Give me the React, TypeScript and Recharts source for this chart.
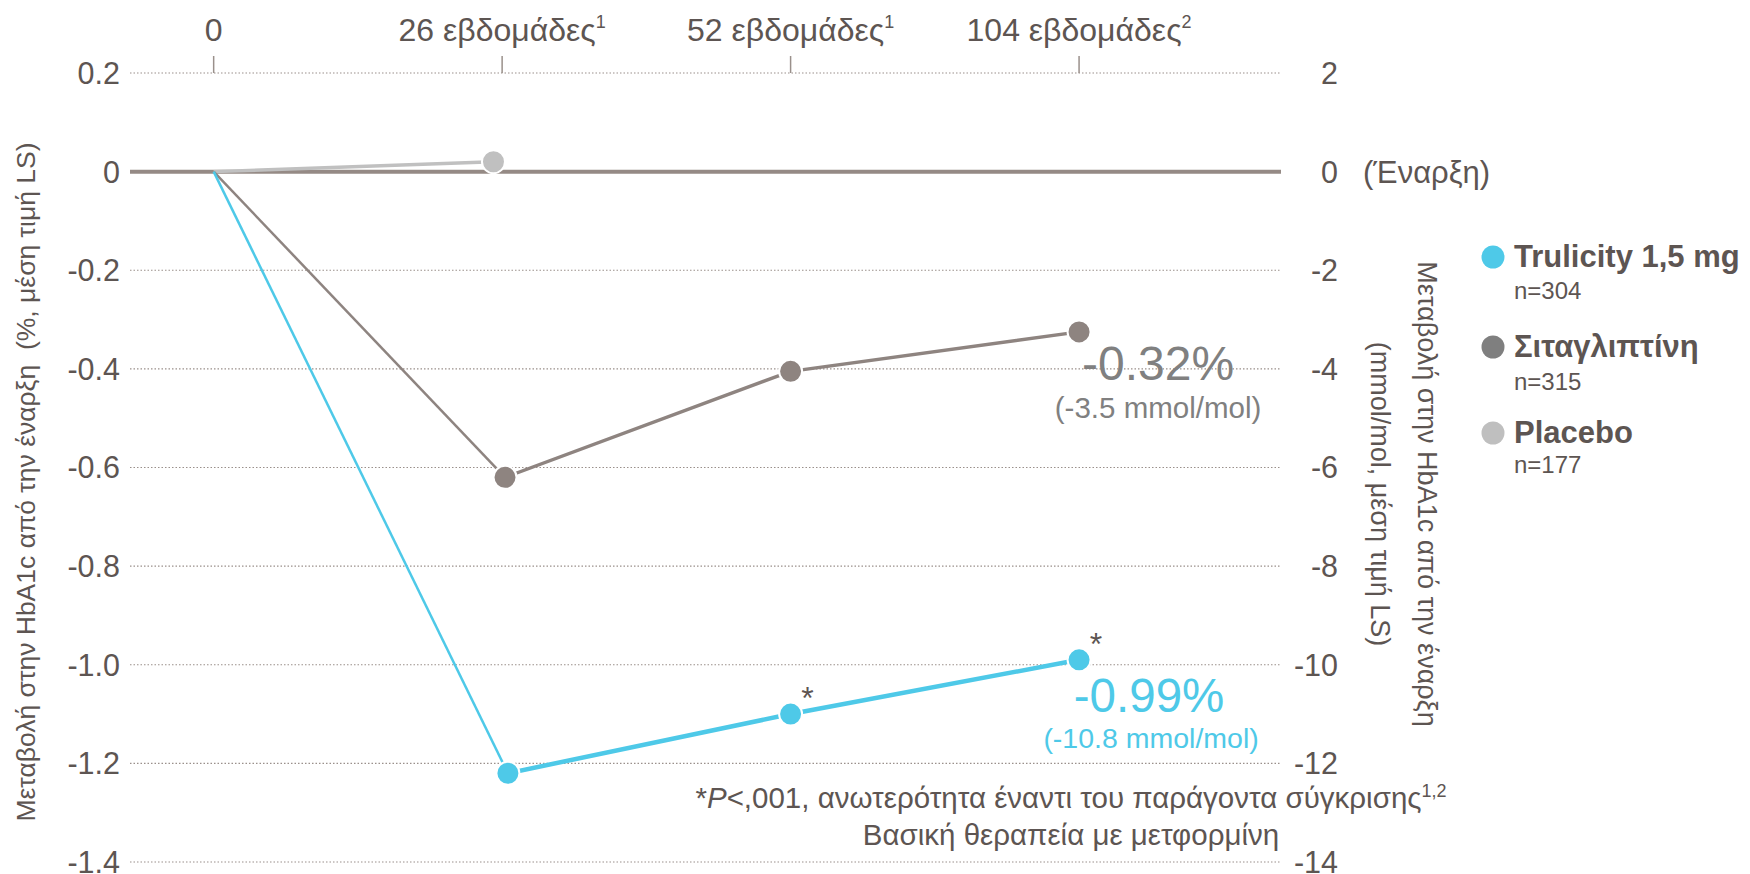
import React from "react";
import {
  LineChart,
  Line,
  XAxis,
  YAxis,
  CartesianGrid,
  ReferenceLine,
  Customized,
} from "recharts";

// ---------- data ----------
const weekPositions = [0, 1, 2, 3];
const weekLabels = ["0", "26 εβδομάδες", "52 εβδομάδες", "104 εβδομάδες"];
const weekRefs = ["", "1", "1", "2"];

const trulicityX = [0, 1.02, 2, 3];
const trulicityValues = [0, -1.22, -1.1, -0.99];
const trulicityMarks = ["", "*", "*"];
const trulicityChange = ["-0.99%", "(-10.8 mmol/mol)"];

const sitagliptinX = [0, 1.01, 2, 3];
const sitagliptinValues = [0, -0.62, -0.405, -0.325];
const sitagliptinChange = ["-0.32%", "(-3.5 mmol/mol)"];

const placeboX = [0, 0.97];
const placeboValues = [0, 0.02];

const pctTicks = [0.2, 0, -0.2, -0.4, -0.6, -0.8, -1.0, -1.2, -1.4];
const mmolTicks = [2, 0, -2, -4, -6, -8, -10, -12, -14];
const baselineLabel = "(Έναρξη)";

const seriesNames = ["Trulicity 1,5 mg", "Σιταγλιπτίνη", "Placebo"];
const seriesCounts = ["n=304", "n=315", "n=177"];
const legendColors = ["#4ec9e8", "#7f7f7f", "#bfbfbf"];

const leftTitle = "Μεταβολή στην HbA1c από την έναρξη  (%, μέση τιμή LS)";
const rightTitle = ["Μεταβολή στην HbA1c από την έναρξη", "(mmol/mol, μέση τιμή LS)"];
const footnote1 = ["*", "P", "<,001, ανωτερότητα έναντι του παράγοντα σύγκρισης", "1,2"];
const footnote2 = "Βασική θεραπεία με μετφορμίνη";

// ---------- styles ----------
const FONT = "'Liberation Sans', Arial, sans-serif";
const TEXT = "#5d5552";
const CYAN = "#4ec9e8";
const SITA = "#8e8480";
const PLAC = "#c0c0c0";
const GRID = "#9a908b";
const ZERO = "#958a85";
const ANNO_GRAY = "#808080";

const toPoints = (xs: number[], ys: number[]) => xs.map((x, i) => ({ x, y: ys[i] }));
const truAll = toPoints(trulicityX, trulicityValues);
const sitaAll = toPoints(sitagliptinX, sitagliptinValues);
const placAll = toPoints(placeboX, placeboValues);

const makeDot = (fill: string, skipFirst: boolean) => (props: any) => {
  const { cx, cy, index } = props;
  if (cx == null || cy == null || (skipFirst && index === 0)) return <g key={`d-${index}`} />;
  return <circle key={`d-${index}`} cx={cx} cy={cy} r={11.5} fill={fill} stroke="#fff" strokeWidth={2} />;
};

const TopTick = (props: any) => {
  const { x, y, payload } = props;
  const i = weekPositions.indexOf(payload.value);
  return (
    <text x={x} y={y} textAnchor="middle" fill={TEXT} fontSize={32} fontFamily={FONT}>
      <tspan>{weekLabels[i]}</tspan>
      {weekRefs[i] ? (
        <tspan dy={-13} fontSize={18}>
          {weekRefs[i]}
        </tspan>
      ) : null}
    </text>
  );
};

const fmtPct = (v: number) => (Math.abs(v) < 1e-9 ? "0" : v.toFixed(1));

const LeftTick = (props: any) => {
  const { x, y, payload } = props;
  return (
    <text x={x} y={y} dy="0.36em" textAnchor="end" fill={TEXT} fontSize={30.5} fontFamily={FONT}>
      {fmtPct(payload.value)}
    </text>
  );
};

const RightTick = (props: any) => {
  const { x, y, payload } = props;
  return (
    <g>
      <text x={x} y={y} dy="0.36em" textAnchor="end" fill={TEXT} fontSize={30.5} fontFamily={FONT}>
        {String(payload.value)}
      </text>
      {payload.value === 0 ? (
        <text x={x + 25} y={y} dy="0.36em" textAnchor="start" fill={TEXT} fontSize={31} fontFamily={FONT}>
          {baselineLabel}
        </text>
      ) : null}
    </g>
  );
};

const TrulicityLabel = (props: any) => {
  const { x, y, index } = props;
  if (x == null || y == null) return null;
  const mark = trulicityMarks[index];
  const last = index === trulicityMarks.length - 1;
  return (
    <g>
      {mark ? (
        <text x={x + 17} y={y - 5} textAnchor="middle" fill={TEXT} fontSize={32} fontFamily={FONT}>
          {mark}
        </text>
      ) : null}
      {last ? (
        <g>
          <text x={x + 70} y={y + 52} textAnchor="middle" fill={CYAN} fontSize={47.5} fontFamily={FONT}>
            {trulicityChange[0]}
          </text>
          <text x={x + 72} y={y + 88} textAnchor="middle" fill={CYAN} fontSize={28.5} fontFamily={FONT}>
            {trulicityChange[1]}
          </text>
        </g>
      ) : null}
    </g>
  );
};

const SitaLabel = (props: any) => {
  const { x, y, index } = props;
  if (x == null || y == null) return null;
  if (index !== 2) return null;
  return (
    <g>
      <text x={x + 79} y={y + 48} textAnchor="middle" fill={ANNO_GRAY} fontSize={48} fontFamily={FONT}>
        {sitagliptinChange[0]}
      </text>
      <text x={x + 79} y={y + 86} textAnchor="middle" fill={ANNO_GRAY} fontSize={29.5} fontFamily={FONT}>
        {sitagliptinChange[1]}
      </text>
    </g>
  );
};

const Overlay = () => (
  <g fontFamily={FONT}>
    <text
      transform="translate(25, 482) rotate(-90)"
      textAnchor="middle"
      dy="0.36em"
      fill={TEXT}
      fontSize={26.5}
      style={{ whiteSpace: "pre" }}
    >
      {leftTitle}
    </text>
    <text transform="translate(1428, 494) rotate(90)" textAnchor="middle" dy="0.36em" fill={TEXT} fontSize={27}>
      {rightTitle[0]}
    </text>
    <text transform="translate(1381, 494) rotate(90)" textAnchor="middle" dy="0.36em" fill={TEXT} fontSize={27}>
      {rightTitle[1]}
    </text>
    {seriesNames.map((name, i) => {
      const base = [267, 357, 443][i];
      const gap = [32, 33, 30][i];
      return (
        <g key={name}>
          <circle cx={1493} cy={base - 10} r={11.5} fill={legendColors[i]} />
          <text x={1514} y={base} fill={TEXT} fontSize={31} fontWeight="bold">
            {name}
          </text>
          <text x={1514} y={base + gap} fill={TEXT} fontSize={24}>
            {seriesCounts[i]}
          </text>
        </g>
      );
    })}
    <text x={1071} y={808} textAnchor="middle" fill={TEXT} fontSize={29.5}>
      <tspan>{footnote1[0]}</tspan>
      <tspan fontStyle="italic">{footnote1[1]}</tspan>
      <tspan>{footnote1[2]}</tspan>
      <tspan dy={-11} fontSize={18}>
        {footnote1[3]}
      </tspan>
    </text>
    <text x={1071} y={845} textAnchor="middle" fill={TEXT} fontSize={29.5}>
      {footnote2}
    </text>
  </g>
);

export default function App() {
  return (
    <div style={{ position: "absolute", left: 0, top: 0, background: "#fff" }}>
      <LineChart width={1750} height={874} margin={{ top: 0, right: 0, bottom: 12, left: 0 }}>
        <CartesianGrid
          horizontal
          vertical={false}
          stroke={GRID}
          strokeDasharray="1.5 2"
          strokeWidth={1.2}
        />
        <XAxis
          type="number"
          dataKey="x"
          orientation="top"
          domain={[-0.29, 3.7]}
          ticks={weekPositions}
          height={73}
          tickSize={17}
          tickMargin={15}
          axisLine={false}
          tickLine={{ stroke: GRID, strokeWidth: 1.5 }}
          tick={<TopTick />}
          allowDataOverflow
          interval={0}
        />
        <YAxis
          type="number"
          domain={[-1.4, 0.2]}
          ticks={pctTicks}
          width={130}
          tickSize={0}
          tickMargin={10}
          axisLine={false}
          tickLine={false}
          tick={<LeftTick />}
          interval={0}
          allowDataOverflow
        />
        <YAxis
          yAxisId="mmol"
          orientation="right"
          type="number"
          domain={[-14, 2]}
          ticks={mmolTicks}
          width={469}
          tickSize={0}
          tickMargin={57}
          axisLine={false}
          tickLine={false}
          tick={<RightTick />}
          interval={0}
          allowDataOverflow
        />
        <ReferenceLine y={0} stroke={ZERO} strokeWidth={4} />
        <Line
          data={placAll}
          dataKey="y"
          stroke={PLAC}
          strokeWidth={3.5}
          dot={makeDot(PLAC, true)}
          activeDot={false}
          isAnimationActive={false}
        />
        <Line
          data={sitaAll.slice(0, 2)}
          dataKey="y"
          stroke={SITA}
          strokeWidth={2.5}
          dot={false}
          activeDot={false}
          isAnimationActive={false}
        />
        <Line
          data={truAll.slice(0, 2)}
          dataKey="y"
          stroke={CYAN}
          strokeWidth={2.5}
          dot={false}
          activeDot={false}
          isAnimationActive={false}
        />
        <Line
          data={sitaAll.slice(1)}
          dataKey="y"
          stroke={SITA}
          strokeWidth={3.5}
          dot={makeDot(SITA, false)}
          activeDot={false}
          label={<SitaLabel />}
          isAnimationActive={false}
        />
        <Line
          data={truAll.slice(1)}
          dataKey="y"
          stroke={CYAN}
          strokeWidth={4.5}
          dot={makeDot(CYAN, false)}
          activeDot={false}
          label={<TrulicityLabel />}
          isAnimationActive={false}
        />
        <Customized component={Overlay} />
      </LineChart>
    </div>
  );
}
